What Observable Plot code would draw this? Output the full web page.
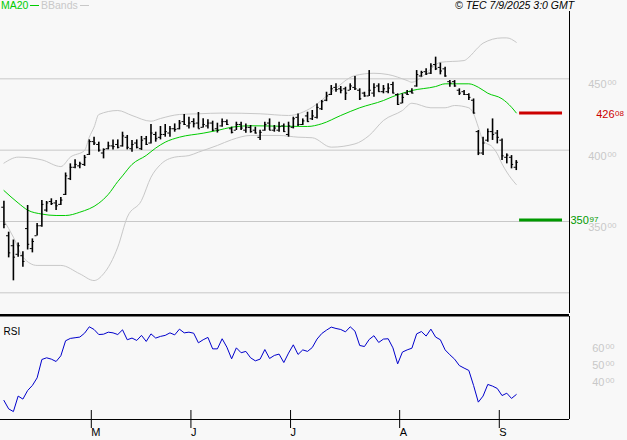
<!DOCTYPE html>
<html><head><meta charset="utf-8">
<script src="https://cdn.jsdelivr.net/npm/d3@7"></script>
<script src="https://cdn.jsdelivr.net/npm/@observablehq/plot@0.6"></script>
<style>
body{margin:0;background:#f8f8f8;}
#wrap{position:relative;width:627px;height:440px;background:#f8f8f8;font-family:"Liberation Sans",Arial,sans-serif;overflow:hidden}
#legend{position:absolute;left:0;top:0;width:627px;height:11px;font-size:10.5px;line-height:11px;z-index:2}
#legend span{position:absolute;top:0;white-space:nowrap}
.dash{display:inline-block;width:9px;height:0;border-top:1px solid;vertical-align:3px;margin-left:2px}
#price{position:absolute;left:0;top:11px}
#rsi{position:absolute;left:0;top:313px}
</style></head>
<body>
<div id="wrap">
  <div id="legend">
    <span style="left:1px;color:#00cc00">MA20<i class="dash" style="border-color:#00cc00"></i></span>
    <span style="left:41px;color:#c8c8c8">BBands<i class="dash" style="border-color:#c8c8c8"></i></span>
    <span style="left:455px;color:#000;font-style:italic">© TEC 7/9/2025 3:0 GMT</span>
  </div>
  <div id="price"></div>
  <div id="rsi"></div>
</div>
<script>
// ---- data (trading-day index 0..108) ----
const open  = [360,340,333,327,326,345,331,340,347,358,364,363,362,369,380,388,389,390,397,406,404,398,401,403,404,403,409,401,405,401,408,405,411,409,411,412,415,415,420,417,420,419,416,417,419,415,417,420,415,414,418,414,416,414,409,414,419,414,414,417,411,416,423,418,424,422,423,429,435,439,444,443,443,442,444,442,440,438,440,445,441,441,446,439,433,440,441,445,452,455,454,460,458,457,448,448,442,441,439,435,413,398,407,413,412,407,395,395,388];
const high  = [364.2,342.5,337,335,328.8,361.2,337.8,348.6,364.7,364,365.9,364.7,366.8,384,390.4,393.2,391.6,396.3,407.2,409.1,405.6,400.9,405.6,407.2,407.2,412.6,410.3,406.7,407.2,409.6,409.6,418,412.6,416.6,418,416.6,418.4,420.8,425,423.1,422,426.4,422,421.3,420.3,418.9,421.9,421.2,416.1,419.6,419.6,418.4,417.3,416.1,414,419.6,421.9,417.3,419.6,418.4,419.6,423.1,425.4,421.9,426.6,427.8,432.4,434.8,440.6,445.3,446.5,444.6,444.1,446.5,451.6,443,440.6,455.8,446.5,446.5,445.3,446.5,447.6,439.5,439.5,441.8,443,455.8,455.3,457,460.5,465.2,461,458.1,448.8,448.8,443,441.8,439.5,435.9,413.8,409.1,414.9,421.9,413.8,407.9,397.4,396.2,392.7];
const low   = [344.9,324.5,308.4,325,318,330,328,339.8,346,356.5,361.2,357.7,361.2,368.2,378.7,386.9,386.9,388.6,396.3,403.3,398.6,393.9,400.2,400.2,400.9,402.1,400.2,398.6,400.9,399.8,403.3,404.4,405.6,407.2,409.1,409.1,412.6,414.2,417.3,414.9,415.6,414.9,415.6,414.9,413,412,416.1,417.3,411.4,413.8,413.8,411.9,411.9,411.4,406.8,413.3,413.8,412.6,412.6,412.6,409.1,414.9,416.6,417.3,419.6,420.8,421.9,427.8,434,438.3,440.6,439.5,434.8,441.8,441.8,434.8,437.1,437.6,437.1,440.6,439.5,439.5,439.5,431.3,432.5,438.3,439.5,444.1,451.1,452.3,453,455.8,452.8,451.1,444.1,444.1,438.3,438.3,434.8,425.4,396.2,396.2,405.6,406.8,404.4,392.7,390.4,386.9,385.7];
const close = [348,328,325,333,322,334,336,347,362,363,362.5,361,365,382,388,390,390.5,395,406,405,400,400.5,403,402.5,402,410,402,404,402,407,404,412,408,411,413,415,414.5,419,418,419,418.5,415,418,419,414,414,420,418,412.5,418,415.5,416,413,412,412.5,418,414,415.5,416.5,413,417,422,418,420.5,420,424,430,434,438,443,442.5,442,440,445,443,436,438,442,444,441,443,443.5,440,432,437,439,440,453,454.5,453.5,459,457,455.5,452,447,445,440,439,437,426,398,405,413,411,409,396,396.5,390,391.5];

const maIdx = [0,3,5,8,11,13,16,20,22,24,25,27,30,32,34,37,42,45,48,52,58,64,67,71,75,80,82,86,91,93,98,100,102,105,107,108];
const maVal = [371.7,363,358,355.2,354.2,354.2,356.5,362.8,369,378,382,390,396.3,401.5,405.6,409.1,411.9,413.8,416.1,417.1,416.8,416.6,418.5,424.3,429.7,434.8,437.6,441.8,444.6,446.5,446.5,444.1,439.9,436,430.1,426.1];

const upIdx = [0,3,8,12,14,17,18,19,20,24,27,31,33,37,41,46,54,60,65,69,74,78,81,85,86,88,90,92,97,98,100,101,105,106,108];
const upVal = [390.9,395.1,393.2,388.5,395.1,399.8,409.1,416.1,425,427.8,424.3,420.3,422.2,425,425.5,426,425.5,424.3,430.1,440.6,452.3,453.9,453,448.8,447.6,451.1,457,461.6,462.8,465.1,472.1,475,478.7,478.7,475.6];

const loIdx = [0,2,4,7,12,16,19,21,24,26,29,31,33,36,39,41,45,48,52,58,62,65,69,74,77,80,84,86,90,93,95,98,99,100,101,103,104,105,107,108];
const loVal = [350.7,339,325,319.2,319.2,313.3,308.6,313.3,332,353,364.7,381,389.9,395.1,396.2,398.6,403.3,407.3,410.3,410.3,409.1,408.7,402.1,404.4,410.3,420.8,427.8,432.9,429.7,429.7,431.3,429.7,425.5,416.1,406.8,402.1,397.4,390.4,379.9,375.9];

const rsi = [26.2,21.2,19.6,28.8,27,32.1,35.1,39.6,50.5,51.5,50.7,49.3,52.7,61.6,63,63.4,63.8,66.1,69.9,68.3,65.3,65.5,66.7,66.3,65.3,68.1,62.2,63.2,61.8,64.8,61.2,65.7,63.2,64.2,64.8,66.3,65.1,68.5,66.3,66.7,66.1,60.4,62.2,63.6,56.8,56.8,62.8,57.8,50.9,57.4,54.5,55.3,51.5,49.7,50.7,56.4,51.1,52.9,53.7,48.7,54.3,59.2,53.5,56.2,55.3,57.6,62.6,65.9,67.9,69.7,68.9,68.3,66.9,69.9,67.3,58.8,58.2,62.4,64.6,60.6,62.6,62.8,57.4,47.9,54.9,56.2,57.2,65.7,67.1,64.4,68.5,63.8,62.2,56.2,53.3,50.7,46.9,45.4,44,35.1,25.2,28.8,35.7,34.7,33.3,29.1,30.5,27.4,29.7];

const levelValues = [426.08, 350.97];
const levelColors = ["#cc0000", "#009900"];
const priceTicks = [350, 400, 450];
const priceGrid = [300, 350, 400, 450];
const rsiTicks = [60, 50, 40];
const monthIdx = [18, 39, 60, 83, 104];
const monthLabels = ["M", "J", "J", "A", "S"];

// ---- build tables ----
const N = high.length;
const bars = d3.range(N).map(i => ({i, o: open[i], h: high[i], l: low[i], c: close[i]}));
const ma = maIdx.map((i, k) => ({i, v: maVal[k]}));
const up = upIdx.map((i, k) => ({i, v: upVal[k]}));
const lo = loIdx.map((i, k) => ({i, v: loVal[k]}));
const rsiData = rsi.map((v, i) => ({i, v}));
const levels = levelValues.map((v, k) => ({v, color: levelColors[k], main: String(Math.floor(v)), dec: v.toFixed(2).split(".")[1]}));
const labelMap = new Map(monthIdx.map((d, k) => [d, monthLabels[k]]));

const xDomain = [-0.72, 119.22];
const FONT = "'Liberation Sans', Arial, sans-serif";
const last = N - 1;

const price = Plot.plot({
  width: 627, height: 302,
  marginLeft: 0, marginRight: 58, marginTop: 0, marginBottom: 0,
  x: {domain: xDomain, axis: null},
  y: {domain: [285.5, 497.2], axis: null},
  style: {background: "transparent", fontFamily: FONT, fontSize: "11px", overflow: "visible"},
  marks: [
    Plot.ruleY(priceGrid, {stroke: "#c8c8c8", strokeWidth: 1}),
    Plot.line(up, {x: "i", y: "v", stroke: "#c8c8c8", strokeWidth: 1, curve: "monotone-x"}),
    Plot.line(lo, {x: "i", y: "v", stroke: "#c8c8c8", strokeWidth: 1, curve: "monotone-x"}),
    Plot.line(ma, {x: "i", y: "v", stroke: "#00cc00", strokeWidth: 1, curve: "monotone-x"}),
    Plot.ruleX(bars, {x: "i", y1: "l", y2: "h", stroke: "#000", strokeWidth: 1.6}),
    Plot.ruleY(bars, {y: "o", x1: d => d.i - 0.45, x2: "i", stroke: "#000", strokeWidth: 1}),
    Plot.ruleY(bars, {y: "c", x1: "i", x2: d => d.i + 0.45, stroke: "#000", strokeWidth: 1}),
    Plot.ruleY(levels, {y: "v", x1: () => last + 0.7, x2: () => last + 9.75, stroke: "color", strokeWidth: 3}),
    Plot.ruleX([xDomain[1]], {stroke: "#000", strokeWidth: 1}),
    Plot.text(priceTicks, {y: d => d, text: d => String(d), frameAnchor: "right", textAnchor: "end", dx: 37, dy: 6, fill: "#c8c8c8", fontSize: 11}),
    Plot.text(priceTicks, {y: d => d, text: () => "00", frameAnchor: "right", textAnchor: "start", dx: 38, dy: 4, fill: "#c8c8c8", fontSize: 8}),
    Plot.text(levels.slice(0, 1), {y: "v", text: "main", frameAnchor: "right", textAnchor: "end", dx: 45, dy: 1.5, fill: "color", fontSize: 11}),
    Plot.text(levels.slice(0, 1), {y: "v", text: "dec", frameAnchor: "right", textAnchor: "start", dx: 45.5, dy: 0, fill: "color", fontSize: 8}),
    Plot.text(levels.slice(1), {y: "v", text: "main", frameAnchor: "right", textAnchor: "start", dx: 1, dy: 0.5, fill: "color", fontSize: 11}),
    Plot.text(levels.slice(1), {y: "v", text: "dec", frameAnchor: "right", textAnchor: "start", dx: 20, dy: -1, fill: "color", fontSize: 8})
  ]
});
document.getElementById("price").append(price);

const rsiPlot = Plot.plot({
  width: 627, height: 127,
  marginLeft: 0, marginRight: 58, marginTop: 3, marginBottom: 21,
  x: {domain: xDomain, label: null},
  y: {domain: [14.9, 76], axis: null},
  style: {background: "transparent", fontFamily: FONT, fontSize: "11px", overflow: "visible"},
  marks: [
    Plot.ruleY([76], {stroke: "#000", strokeWidth: 2.6, dy: -1.3}),
    Plot.ruleY([14.9], {stroke: "#000", strokeWidth: 1}),
    Plot.ruleX([xDomain[1]], {stroke: "#000", strokeWidth: 1}),
    Plot.line(rsiData, {x: "i", y: "v", stroke: "#0000cc", strokeWidth: 1}),
    Plot.text(["RSI"], {frameAnchor: "top-left", dx: 3, dy: 11, fontSize: 10, fill: "#000"}),
    Plot.text(rsiTicks, {y: d => d, text: d => String(d), frameAnchor: "right", textAnchor: "end", dx: 35, dy: 5.3, fill: "#c8c8c8", fontSize: 11}),
    Plot.text(rsiTicks, {y: d => d, text: () => "00", frameAnchor: "right", textAnchor: "start", dx: 36, dy: 3, fill: "#c8c8c8", fontSize: 8}),
    Plot.axisX({ticks: monthIdx, label: null, tickSize: 18, tickPadding: 0, tickFormat: d => labelMap.get(d), textAnchor: "start", dx: 2, dy: -9, fontSize: 11, stroke: "#000", fill: "#000"})
  ]
});
document.getElementById("rsi").append(rsiPlot);
</script>
</body></html>
